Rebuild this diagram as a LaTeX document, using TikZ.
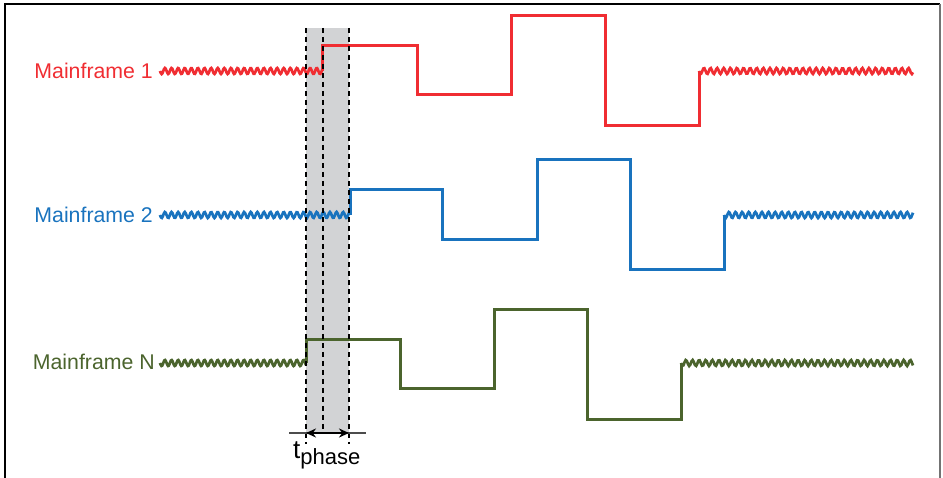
\documentclass[tikz,border=0pt]{standalone}
\usepackage{fontspec}
\setmainfont{Liberation Sans}
\usetikzlibrary{arrows.meta}
\definecolor{mred}{RGB}{240,45,50}
\definecolor{mblue}{RGB}{25,115,190}
\definecolor{mgreen}{RGB}{75,100,45}
\definecolor{band}{RGB}{210,211,213}
\tikzset{
  sig/.style={line width=3pt, line join=miter},
  wav/.style={line width=2.7pt},
  guide/.style={line width=1.9pt, dash pattern=on 5pt off 4pt},
  lbl/.style={font=\fontsize{21.3}{23}\selectfont, anchor=east, inner sep=0pt}
}
\newcommand{\wave}[4]{% color, x0, x1, y
  \draw[wav,#1] plot[domain=#2:#3, samples=200, smooth] (\x,{#4+3*sin(mod(\x-#2,6.6)/6.6*360)});}
\begin{document}
\begin{tikzpicture}[x=1pt,y=-1pt]
\useasboundingbox (0,0) rectangle (943,478);
% frame
\draw[line width=2pt] (5,478) -- (5,4) -- (940,4);
\draw[line width=2pt, black!55] (940,4) -- (940,478);
% band
\fill[band] (306,28) rectangle (349,432);
% signals
\wave{mred}{160}{322}{71}
\draw[sig,mred] (322,71) -- (322,46) -- (417,46) -- (417,95) -- (511,95) -- (511,16) -- (605,16) -- (605,126) -- (699,126) -- (699,71);
\wave{mred}{699}{913}{71}
\wave{mblue}{160}{350}{215}
\draw[sig,mblue] (350,215) -- (350,190) -- (442,190) -- (442,240) -- (537,240) -- (537,160) -- (630,160) -- (630,270) -- (724,270) -- (724,215);
\wave{mblue}{724}{913}{215}
\wave{mgreen}{160}{306}{363}
\draw[sig,mgreen] (306,363) -- (306,340) -- (400,340) -- (400,389) -- (494,389) -- (494,310) -- (587,310) -- (587,419) -- (681,419) -- (681,363);
\wave{mgreen}{681}{913}{363}
% guides
\draw[guide] (306,28) -- (306,444);
\draw[guide] (323,28) -- (323,432);
\draw[guide] (349,28) -- (349,444);
% t_phase
\coordinate (pl) at (306,433);
\coordinate (pr) at (349,433);
\draw[line width=1.3pt, black!70] (289,433) -- (366,433);
\draw[line width=2.6pt, {Stealth[length=10pt,width=9pt]}-{Stealth[length=10pt,width=9pt]}] (pl) -- (pr);
\node[anchor=base west, inner sep=0pt] (tp) at (293,458) {\fontsize{26}{28}\selectfont t\raisebox{-6pt}{\fontsize{22}{24}\selectfont phase}};
% labels
\node[lbl, text=mred] (l1) at (153,71) {Mainframe 1};
\node[lbl, text=mblue] (l2) at (153,215) {Mainframe 2};
\node[lbl, text=mgreen] (l3) at (155,362) {Mainframe N};
\end{tikzpicture}
\end{document}
